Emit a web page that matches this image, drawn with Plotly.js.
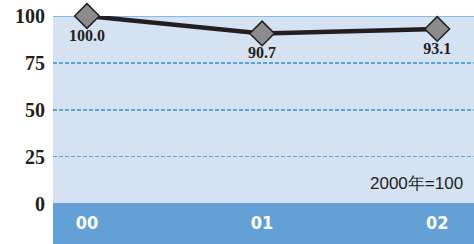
<!DOCTYPE html>
<html><head><meta charset="utf-8">
<script src="https://cdn.plot.ly/plotly-3.0.1.min.js"></script>
<style>html,body{margin:0;padding:0;background:#fff}#c{width:474px;height:244px}</style>
</head><body><div id="c"></div>
<script>
var categories = ['00', '01', '02'];
var values = [100.0, 90.7, 93.1];
var valueLabels = ['100.0', '90.7', '93.1'];
var yTicks = [0, 25, 50, 75, 100];
var note = '2000年=100';

var xIdx = categories.map(function(c, i){ return i; });
var bold = function(s){ return '<b>' + s + '</b>'; };
var trace = {
  x: xIdx, y: values, type: 'scatter', mode: 'lines+markers+text',
  text: valueLabels.map(bold), textposition: 'bottom center',
  textfont: {family: 'Liberation Serif', size: 16, color: '#231f20'},
  line: {color: '#231f20', width: 4.5},
  marker: {symbol: 'diamond', size: 19, color: '#8c8c8c', line: {color: '#231f20', width: 1.5}},
  cliponaxis: false, hoverinfo: 'skip'
};
var layout = {
  width: 474, height: 244,
  margin: {l: 53, r: 0, t: 15.5, b: 0},
  paper_bgcolor: '#ffffff', plot_bgcolor: '#d5e2f2',
  showlegend: false,
  xaxis: {range: [-0.194, 2.21], tickvals: xIdx, ticktext: categories.map(bold),
    ticklabelposition: 'inside', ticklabelstandoff: 8, showgrid: false, zeroline: false, showline: false, ticks: '',
    tickfont: {family: 'DejaVu Sans Condensed', size: 18, color: '#ffffff'}},
  yaxis: {range: [-21.5, 100], tickvals: yTicks, ticktext: yTicks.map(String).map(bold),
    showgrid: true, gridcolor: '#5aa2dd', griddash: '4px,2px', gridwidth: 1.5,
    zeroline: true, zerolinecolor: '#62a0d6', zerolinewidth: 2, showline: false, ticks: '', ticklabelstandoff: 7,
    tickfont: {family: 'Liberation Serif', size: 20, color: '#231f20'}},
  shapes: [
    {type: 'rect', xref: 'paper', yref: 'y', x0: 0, x1: 1, y0: -21.5, y1: 0, fillcolor: '#62a0d6', line: {width: 0}, layer: 'between'},
    {type: 'line', xref: 'paper', yref: 'y', x0: 0, x1: 1, y0: yTicks[yTicks.length-1], y1: yTicks[yTicks.length-1], line: {color: '#6aaedc', width: 1.5}, layer: 'between'}
  ],
  annotations: [{xref: 'paper', yref: 'y', x: 0.978, y: 11, xanchor: 'right', yanchor: 'middle', showarrow: false,
    text: note, font: {family: 'Liberation Sans', size: 17, color: '#231f20'}}]
};
Plotly.newPlot('c', [trace], layout, {staticPlot: true, displayModeBar: false});
</script></body></html>
